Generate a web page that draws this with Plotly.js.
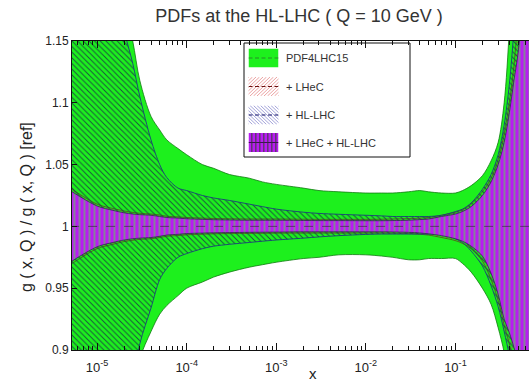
<!DOCTYPE html>
<html>
<head>
<meta charset="utf-8">
<script src="https://cdn.plot.ly/plotly-3.0.1.min.js"></script>
<style>
  html, body { margin: 0; padding: 0; overflow: hidden; background: #fff; }
  #chart { width: 560px; height: 384px; }
</style>
</head>
<body>
<div id="chart"></div>
<script>
// Momentum fraction grid shared by every uncertainty band
const xGrid = [5e-6, 1e-5, 1.5e-5, 2e-5, 2.5e-5, 3e-5, 4e-5, 5e-5, 6e-5, 8e-5, 1e-4, 1.5e-4, 2e-4, 3e-4,
  5e-4, 7e-4, 1e-3, 2e-3, 3e-3, 5e-3, 1e-2, 1.5e-2, 2e-2, 3e-2, 4e-2, 5e-2, 7e-2, 0.1,
  0.12, 0.15, 0.2, 0.25, 0.3, 0.35, 0.4, 0.45, 0.5, 0.6, 0.7, 1.0];

// PDF4LHC15 baseline band
const pdfUp = [1.40, 1.30, 1.22, 1.18, 1.150, 1.118, 1.089, 1.078, 1.070, 1.063, 1.058, 1.050, 1.047, 1.042,
  1.039, 1.036, 1.034, 1.031, 1.029, 1.028, 1.027, 1.027, 1.027, 1.028, 1.029, 1.028, 1.027, 1.027,
  1.029, 1.033, 1.041, 1.053, 1.068, 1.100, 1.160, 1.25, 1.35, 1.5, 1.6, 1.8];
const pdfLo = [0.60, 0.70, 0.78, 0.83, 0.86, 0.893, 0.915, 0.929, 0.936, 0.944, 0.950, 0.955, 0.959, 0.963,
  0.967, 0.969, 0.971, 0.974, 0.975, 0.977, 0.977, 0.976, 0.975, 0.973, 0.973, 0.974, 0.974, 0.974,
  0.970, 0.963, 0.950, 0.937, 0.918, 0.898, 0.870, 0.85, 0.82, 0.75, 0.70, 0.50];

// + LHeC
const lhecUp = [1.031, 1.018, 1.0145, 1.0125, 1.0113, 1.0106, 1.010, 1.0092, 1.0082, 1.0077, 1.0072, 1.0067, 1.0064, 1.0062,
  1.006, 1.006, 1.006, 1.0058, 1.0057, 1.0057, 1.0057, 1.0058, 1.006, 1.0063, 1.0067, 1.0072, 1.009, 1.0115,
  1.0135, 1.018, 1.028, 1.039, 1.054, 1.075, 1.100, 1.13, 1.17, 1.25, 1.35, 1.6];
const lhecLo = [0.969, 0.982, 0.9855, 0.9877, 0.9888, 0.9895, 0.990, 0.991, 0.992, 0.9926, 0.9932, 0.9937, 0.994, 0.9942,
  0.9943, 0.9944, 0.9945, 0.9946, 0.9946, 0.9946, 0.9946, 0.9946, 0.9945, 0.9942, 0.9937, 0.993, 0.991, 0.9885,
  0.9862, 0.982, 0.972, 0.957, 0.940, 0.920, 0.905, 0.89, 0.87, 0.80, 0.74, 0.58];

// + HL-LHC
const hllhcUp = [1.45, 1.32, 1.24, 1.16, 1.132, 1.105, 1.070, 1.050, 1.0395, 1.031, 1.029, 1.025, 1.023, 1.021,
  1.018, 1.016, 1.014, 1.0115, 1.0105, 1.0098, 1.009, 1.0085, 1.008, 1.008, 1.008, 1.008, 1.009, 1.012,
  1.014, 1.019, 1.030, 1.042, 1.058, 1.082, 1.115, 1.16, 1.22, 1.35, 1.45, 1.7];
const hllhcLo = [0.55, 0.68, 0.77, 0.83, 0.87, 0.905, 0.934, 0.957, 0.966, 0.975, 0.978, 0.982, 0.984, 0.9855,
  0.987, 0.988, 0.989, 0.9905, 0.9915, 0.9925, 0.9935, 0.9938, 0.9938, 0.9938, 0.9938, 0.9938, 0.9938, 0.990,
  0.987, 0.980, 0.968, 0.952, 0.935, 0.915, 0.895, 0.87, 0.84, 0.78, 0.72, 0.55];

// + LHeC + HL-LHC
const combUp = [1.029, 1.0165, 1.013, 1.011, 1.010, 1.0095, 1.009, 1.008, 1.0072, 1.0067, 1.0062, 1.0057, 1.0054, 1.0052,
  1.005, 1.005, 1.005, 1.0048, 1.0047, 1.0047, 1.0046, 1.0046, 1.0047, 1.005, 1.0055, 1.006, 1.008, 1.010,
  1.012, 1.016, 1.025, 1.036, 1.050, 1.068, 1.092, 1.118, 1.14, 1.20, 1.30, 1.50];
const combLo = [0.971, 0.9835, 0.987, 0.989, 0.990, 0.9905, 0.991, 0.992, 0.993, 0.9936, 0.9942, 0.9946, 0.9948, 0.995,
  0.9952, 0.9953, 0.9954, 0.9956, 0.9956, 0.9956, 0.9956, 0.9956, 0.9955, 0.9952, 0.9947, 0.994, 0.9925, 0.990,
  0.988, 0.984, 0.976, 0.962, 0.945, 0.925, 0.914, 0.902, 0.89, 0.80, 0.75, 0.60];

// central value (ratio to the reference set)
const centralX = [5e-6, 1.0];
const centralY = [1, 1];

const xTickVals = [1e-5, 1e-4, 1e-3, 1e-2, 1e-1];
const xTickText = ['10<sup>-5</sup>', '10<sup>-4</sup>', '10<sup>-3</sup>', '10<sup>-2</sup>', '10<sup>-1</sup>'];
const yTickVals = [0.9, 0.95, 1, 1.05, 1.1, 1.15];
const yTickText = ['0.9', '0.95', '1', '1.05', '1.1', '1.15'];

const legendLabels = ['PDF4LHC15', '+ LHeC', '+ HL-LHC', '+ LHeC + HL-LHC'];
const yTitle = 'g ( x, Q ) / g ( x, Q ) [ref]';
const xTitle = 'x';

const FONT = 'Liberation Sans, Arial, Helvetica, sans-serif';
const GREEN = '#1df01d';
const PURPLE = '#b81cf2';

// closed polygon of a band: upper edge left to right, lower edge back
function band(up, lo) {
  return {
    x: xGrid.concat(xGrid.slice().reverse()),
    y: up.concat(lo.slice().reverse())
  };
}

const traces = [];
const pdf = band(pdfUp, pdfLo);
traces.push({
  x: pdf.x, y: pdf.y, type: 'scatter', mode: 'lines', fill: 'toself',
  fillcolor: GREEN, line: {color: '#0f7a0f', width: 0.8, shape: 'spline', smoothing: 0.9}, hoverinfo: 'skip'
});
const lhec = band(lhecUp, lhecLo);
traces.push({
  x: lhec.x, y: lhec.y, type: 'scatter', mode: 'lines', fill: 'toself',
  fillpattern: {shape: '/', size: 4, solidity: 0.2, fgcolor: '#a0404a', bgcolor: 'rgba(0,0,0,0)'},
  line: {color: '#6a1a1a', width: 0.6, shape: 'spline', smoothing: 0.9}, hoverinfo: 'skip'
});
const hl = band(hllhcUp, hllhcLo);
traces.push({
  x: hl.x, y: hl.y, type: 'scatter', mode: 'lines', fill: 'toself',
  fillpattern: {shape: '\\', size: 4, solidity: 0.24, fgcolor: '#1a5040', bgcolor: 'rgba(0,0,0,0)'},
  line: {color: '#1c3c7c', width: 0.9, shape: 'spline', smoothing: 0.9}, hoverinfo: 'skip'
});
const comb = band(combUp, combLo);
traces.push({
  x: comb.x, y: comb.y, type: 'scatter', mode: 'lines', fill: 'toself',
  fillpattern: {shape: '|', size: 5, solidity: 0.4, fgcolor: '#86809a', bgcolor: PURPLE},
  line: {color: '#3a1a5a', width: 0.8, shape: 'spline', smoothing: 0.9}, hoverinfo: 'skip'
});
traces.push({
  x: centralX, y: centralY, type: 'scatter', mode: 'lines',
  line: {color: '#4a2a5a', width: 0.8, dash: 'dash'}, hoverinfo: 'skip'
});

// minor log ticks (2..9 in each decade)
const minorVals = [];
for (let d = -6; d <= -1; d++) {
  for (let k = 2; k <= 9; k++) minorVals.push(k * Math.pow(10, d));
}

// ---- legend drawn as a framed box with patterned swatches ----
const W = 560, H = 384;
const ML = 72, MR = 15, MT = 41, MB = 34;
const pw = W - ML - MR, ph = H - MT - MB;
const px = v => (v - ML) / pw;
const py = v => (H - MB - v) / ph;

function svgURI(body) {
  const s = '<svg xmlns="http://www.w3.org/2000/svg" width="30" height="20" viewBox="0 0 30 20">' + body + '</svg>';
  return 'data:image/svg+xml;charset=utf-8,' + encodeURIComponent(s);
}
function hatchLines(color, dir, step, width) {
  let out = '';
  for (let i = -30; i < 60; i += step) {
    if (dir > 0) out += '<line x1="' + i + '" y1="20" x2="' + (i + 20) + '" y2="0" stroke="' + color + '" stroke-width="' + width + '"/>';
    else out += '<line x1="' + i + '" y1="0" x2="' + (i + 20) + '" y2="20" stroke="' + color + '" stroke-width="' + width + '"/>';
  }
  return out;
}
const dashLine = c => '<line x1="0" y1="10" x2="30" y2="10" stroke="' + c + '" stroke-width="1.3" stroke-dasharray="4,2.5"/>';
let vbars = '';
for (let i = 0; i < 30; i += 4) vbars += '<rect x="' + (i + 2.6) + '" y="0" width="1.4" height="20" fill="#5a3a6a"/>';
const swatches = [
  svgURI('<rect width="30" height="20" fill="' + GREEN + '"/>' + dashLine('#2a8a2a')),
  svgURI(hatchLines('#eaa0a0', 1, 3.5, 1) + dashLine('#6a1010')),
  svgURI(hatchLines('#a0a0d8', -1, 3.5, 1) + dashLine('#10106a')),
  svgURI('<rect width="30" height="20" fill="' + PURPLE + '"/>' + vbars + '<line x1="0" y1="10" x2="30" y2="10" stroke="#3a1a4a" stroke-width="1.2"/>')
];
const rowY = [58, 86.5, 115, 142.5];

const images = swatches.map((src, i) => ({
  source: src, xref: 'paper', yref: 'paper',
  x: px(248.5), y: py(rowY[i] - 9.5), sizex: 30 / pw, sizey: 19 / ph,
  xanchor: 'left', yanchor: 'top', sizing: 'stretch', layer: 'above'
}));
const annotations = legendLabels.map((t, i) => ({
  text: t, xref: 'paper', yref: 'paper', x: px(284), y: py(rowY[i]),
  xanchor: 'left', yanchor: 'middle', showarrow: false,
  font: {family: FONT, size: 11, color: '#333'}
}));
// axis labels
annotations.push({
  text: yTitle, xref: 'paper', yref: 'paper', x: px(26), y: py(207),
  xanchor: 'center', yanchor: 'middle', textangle: -90, showarrow: false,
  font: {family: FONT, size: 16, color: '#222'}
});
annotations.push({
  text: xTitle, xref: 'paper', yref: 'paper', x: px(313), y: py(373),
  xanchor: 'center', yanchor: 'middle', showarrow: false, borderpad: 0,
  font: {family: FONT, size: 15, color: '#222'}
});
const shapes = [{
  type: 'rect', xref: 'paper', yref: 'paper',
  x0: px(244), x1: px(410), y0: py(157), y1: py(43),
  fillcolor: '#ffffff', line: {color: '#111', width: 1}, layer: 'below'
}];

const layout = {
  width: W, height: H,
  margin: {l: ML, r: MR, t: MT, b: MB},
  paper_bgcolor: '#fff', plot_bgcolor: '#fff',
  showlegend: false,
  font: {family: FONT, color: '#222'},
  title: {
    text: 'PDFs at the HL-LHC ( Q = 10 GeV )',
    font: {family: FONT, size: 18, color: '#333'},
    xref: 'container', x: 299 / W, xanchor: 'center',
    yref: 'container', y: 1 - 16 / H, yanchor: 'middle'
  },
  xaxis: {
    type: 'log', range: [-5.28, 0],
    tickmode: 'array', tickvals: xTickVals, ticktext: xTickText,
    ticks: 'inside', ticklen: 7, tickwidth: 1, tickcolor: '#111',
    ticklabelstandoff: 5,
    minor: {tickmode: 'array', tickvals: minorVals, ticks: 'inside', ticklen: 4, tickwidth: 1, tickcolor: '#111', showgrid: false},
    showline: true, linecolor: '#111', linewidth: 1, mirror: 'allticks',
    showgrid: false, zeroline: false,
    tickfont: {family: FONT, size: 13, color: '#222'}
  },
  yaxis: {
    range: [0.9, 1.15],
    tickmode: 'array', tickvals: yTickVals, ticktext: yTickText,
    ticks: 'inside', ticklen: 5, tickwidth: 1, tickcolor: '#111',
    showline: true, linecolor: '#111', linewidth: 1, mirror: 'allticks',
    showgrid: false, zeroline: false,
    tickfont: {family: FONT, size: 12, color: '#222'}
  },
  images: images,
  annotations: annotations,
  shapes: shapes
};

Plotly.newPlot('chart', traces, layout, {staticPlot: true, displayModeBar: false});
</script>
</body>
</html>
